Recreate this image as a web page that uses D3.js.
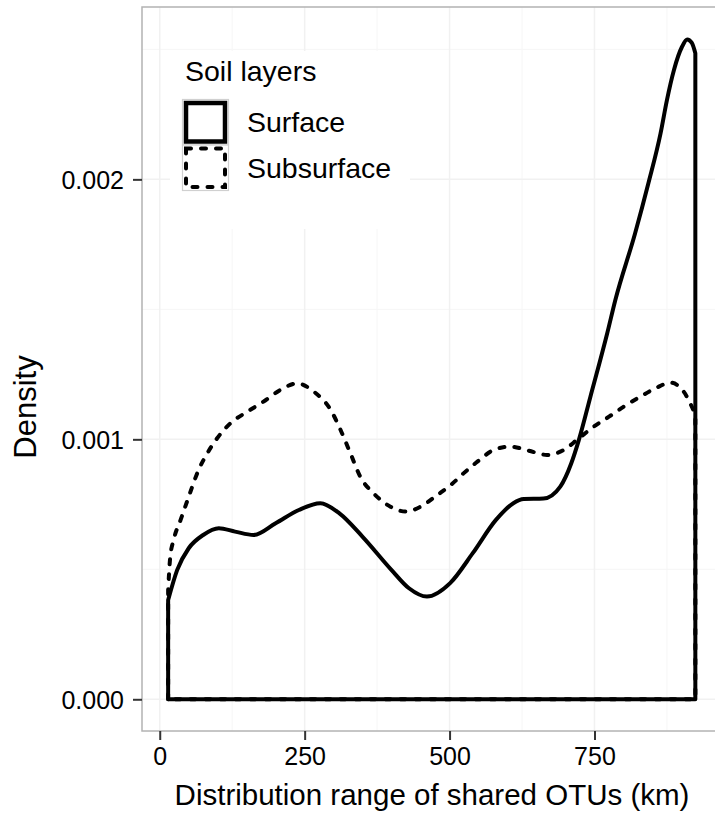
<!DOCTYPE html>
<html>
<head>
<meta charset="utf-8">
<script src="https://cdn.jsdelivr.net/npm/d3@7"></script>
<style>
  body { margin: 0; background: #fff; }
  text { font-family: "Liberation Sans", Arial, sans-serif; fill: #000; }
</style>
</head>
<body>
<div id="holder"></div>
<script>
var width = 715;
var height = 818;

// density curves (x in km, y in density units)
var surfaceX = [14.5, 30, 50, 75, 102, 130, 162, 200, 240, 277, 310, 350, 400, 430, 461, 501, 540, 580, 610, 628, 662, 691, 710, 723, 743, 772, 786, 820, 843, 864, 875, 887, 901, 910, 918, 924];
var surfaceY = [0.000382, 0.000497, 0.000581, 0.000632, 0.000658, 0.000645, 0.000632, 0.000677, 0.000728, 0.000754, 0.000715, 0.000625, 0.000497, 0.000427, 0.000395, 0.000447, 0.000562, 0.000690, 0.000754, 0.000770, 0.000772, 0.000818, 0.000908, 0.000997, 0.001164, 0.001408, 0.001536, 0.001792, 0.001985, 0.002177, 0.002305, 0.002420, 0.002510, 0.002538, 0.002525, 0.002485];

var subX = [14.5, 18, 24, 36, 47, 67, 82, 99, 122, 151, 179, 208, 237, 266, 295, 312, 329, 346, 369, 398, 424, 450, 479, 502, 524, 548, 576, 605, 637, 668, 697, 723, 749, 775, 800, 829, 855, 881, 904, 924];
var subY = [0.000420, 0.000545, 0.000613, 0.000690, 0.000760, 0.000882, 0.000946, 0.001004, 0.001062, 0.001106, 0.001145, 0.001190, 0.001215, 0.001183, 0.001113, 0.001036, 0.000946, 0.000856, 0.000792, 0.000741, 0.000722, 0.000741, 0.000786, 0.000824, 0.000869, 0.000914, 0.000959, 0.000972, 0.000956, 0.000940, 0.000959, 0.001004, 0.001049, 0.001087, 0.001125, 0.001164, 0.001196, 0.001218, 0.001183, 0.001095];

var xTicks = [0, 250, 500, 750];
var xMinor = [125, 375, 625, 875];
var yTicks = [0, 0.001, 0.002];
var yMinor = [0.0005, 0.0015, 0.0025];
var layerNames = ["Surface", "Subsurface"];

var panel = {left: 142, top: 7, right: 722, bottom: 731};

var svg = d3.select("#holder")
  .append("svg")
  .attr("width", width)
  .attr("height", height);

var x = d3.scaleLinear().domain([-30.6, 970]).range([panel.left, panel.right]);
var y = d3.scaleLinear().domain([-0.000122, 0.002663]).range([panel.bottom, panel.top]);

svg.append("clipPath").attr("id", "panelClip")
  .append("rect")
  .attr("x", panel.left).attr("y", panel.top)
  .attr("width", panel.right - panel.left).attr("height", panel.bottom - panel.top);

var plot = svg.append("g").attr("clip-path", "url(#panelClip)");

// grid
plot.selectAll(".minorX").data(xMinor).enter().append("line")
  .attr("x1", d => x(d)).attr("x2", d => x(d))
  .attr("y1", panel.top).attr("y2", panel.bottom)
  .attr("stroke", "#f6f6f6").attr("stroke-width", 1);
plot.selectAll(".minorY").data(yMinor).enter().append("line")
  .attr("y1", d => y(d)).attr("y2", d => y(d))
  .attr("x1", panel.left).attr("x2", panel.right)
  .attr("stroke", "#f6f6f6").attr("stroke-width", 1);
plot.selectAll(".majorX").data(xTicks).enter().append("line")
  .attr("x1", d => x(d)).attr("x2", d => x(d))
  .attr("y1", panel.top).attr("y2", panel.bottom)
  .attr("stroke", "#f1f1f1").attr("stroke-width", 1.5);
plot.selectAll(".majorY").data(yTicks).enter().append("line")
  .attr("y1", d => y(d)).attr("y2", d => y(d))
  .attr("x1", panel.left).attr("x2", panel.right)
  .attr("stroke", "#f1f1f1").attr("stroke-width", 1.5);

// density outlines: curve plus vertical drops to zero and baseline
var curve = d3.line()
  .x(d => x(d[0]))
  .y(d => y(d[1]))
  .curve(d3.curveMonotoneX);

function outline(xs, ys) {
  var pts = xs.map((v, i) => [v, ys[i]]);
  var n = xs.length - 1;
  return "M" + x(xs[0]) + "," + y(0) + "L" + curve(pts).slice(1) +
    "L" + x(xs[n]) + "," + y(0) + "Z";
}

plot.append("path")
  .attr("d", outline(surfaceX, surfaceY))
  .attr("fill", "none")
  .attr("stroke", "#000")
  .attr("stroke-width", 4)
  .attr("stroke-linejoin", "round");

plot.append("path")
  .attr("d", outline(subX, subY))
  .attr("fill", "none")
  .attr("stroke", "#000")
  .attr("stroke-width", 4)
  .attr("stroke-linecap", "round")
  .attr("stroke-dasharray", "5,10");

// legend
var legend = svg.append("g");
legend.append("rect")
  .attr("x", 170).attr("y", 51).attr("width", 240).attr("height", 178)
  .attr("fill", "#fff");
legend.append("text")
  .attr("x", 185).attr("y", 81)
  .style("font-size", "28.5px")
  .text("Soil layers");

var keyTop = [99.5, 145];
layerNames.forEach(function(name, i) {
  legend.append("rect")
    .attr("x", 182.5).attr("y", keyTop[i])
    .attr("width", 46).attr("height", 45.5)
    .attr("fill", "#fff").attr("stroke", "#d0d0d0").attr("stroke-width", 1.2);
  legend.append("rect")
    .attr("x", 186).attr("y", keyTop[i] + 3.5)
    .attr("width", 39).attr("height", 38.5)
    .attr("fill", "none").attr("stroke", "#000").attr("stroke-width", i ? 4 : 4.5)
    .attr("stroke-linecap", i ? "round" : "butt")
    .attr("stroke-dasharray", i ? "5,10" : null);
  legend.append("text")
    .attr("x", 247).attr("y", keyTop[i] + 32.5)
    .style("font-size", "28.5px")
    .text(name);
});

// panel border
svg.append("rect")
  .attr("x", panel.left).attr("y", panel.top)
  .attr("width", panel.right - panel.left).attr("height", panel.bottom - panel.top)
  .attr("fill", "none").attr("stroke", "#b3b3b3").attr("stroke-width", 1.5);

// axes
var xAxis = svg.append("g")
  .attr("transform", "translate(0," + panel.bottom + ")")
  .call(d3.axisBottom(x).tickValues(xTicks).tickFormat(d3.format("d")).tickSize(9).tickSizeOuter(0).tickPadding(7));
xAxis.select(".domain").remove();
xAxis.selectAll("line").attr("stroke", "#333").attr("stroke-width", 2);
xAxis.selectAll("text").style("font-size", "25px").attr("fill", "#000");

var yAxis = svg.append("g")
  .attr("transform", "translate(" + panel.left + ",0)")
  .call(d3.axisLeft(y).tickValues(yTicks).tickFormat(d3.format(".3f")).tickSize(9).tickSizeOuter(0).tickPadding(9));
yAxis.select(".domain").remove();
yAxis.selectAll("line").attr("stroke", "#333").attr("stroke-width", 2);
yAxis.selectAll("text").style("font-size", "25px").attr("fill", "#000").attr("dy", "0.37em");

// titles
svg.append("text")
  .attr("x", (panel.left + panel.right) / 2).attr("y", 805)
  .attr("text-anchor", "middle")
  .style("font-size", "29.5px")
  .text("Distribution range of shared OTUs (km)");

svg.append("text")
  .attr("transform", "translate(36,407) rotate(-90)")
  .attr("text-anchor", "middle")
  .style("font-size", "31px")
  .text("Density");
</script>
</body>
</html>
